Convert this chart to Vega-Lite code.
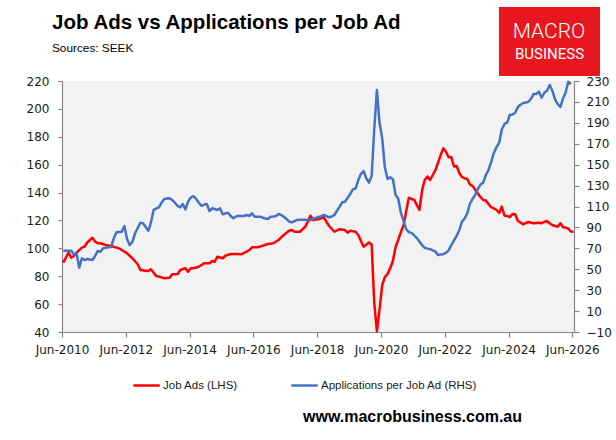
{
  "$schema": "https://vega.github.io/schema/vega-lite/v6.json",
  "width": 512,
  "height": 251,
  "autosize": {"type": "none"},
  "padding": {"left": 62, "top": 81, "right": 42, "bottom": 108},
  "background": "#ffffff",
  "title": {
    "text": "Job Ads vs Applications per Job Ad",
    "subtitle": "\u00a0\u00a0Sources: SEEK",
    "anchor": "start",
    "frame": "group",
    "dx": -10,
    "dy": 72,
    "offset": 24,
    "font": "Liberation Sans",
    "fontSize": 20.5,
    "fontWeight": "bold",
    "color": "#000000",
    "subtitleFont": "Liberation Sans",
    "subtitleFontSize": 11.8,
    "subtitleColor": "#000000",
    "subtitlePadding": 10
  },
  "config": {
    "view": {"fill": "#f2f2f2", "stroke": null},
    "axis": {
      "labelFont": "DejaVu Sans",
      "labelFontSize": 12,
      "labelColor": "#1a1a1a",
      "domainColor": "#868686",
      "tickColor": "#868686",
      "domainWidth": 1.2,
      "tickWidth": 1.2,
      "grid": false
    }
  },
  "datasets": {
    "jobAds": [
      {"date":"2010-06-15","v":89.7},{"date":"2010-08-15","v":96.9},{"date":"2010-09-15","v":93.3},{"date":"2010-10-15","v":94.5},{"date":"2010-11-15","v":96.9},
      {"date":"2011-01-15","v":100.5},{"date":"2011-02-15","v":101.2},{"date":"2011-03-15","v":104.0},{"date":"2011-05-15","v":107.6},{"date":"2011-06-15","v":104.8},
      {"date":"2011-07-15","v":103.6},{"date":"2011-08-15","v":103.6},{"date":"2011-10-15","v":102.4},{"date":"2011-12-15","v":101.7},{"date":"2012-03-15","v":100.0},
      {"date":"2012-04-15","v":98.8},{"date":"2012-06-15","v":96.4},{"date":"2012-08-15","v":92.9},{"date":"2012-10-15","v":88.6},{"date":"2012-11-15","v":84.5},
      {"date":"2013-01-15","v":84.0},{"date":"2013-02-15","v":83.7},{"date":"2013-03-15","v":85.0},{"date":"2013-05-15","v":80.2},{"date":"2013-06-15","v":79.7},
      {"date":"2013-08-15","v":78.5},{"date":"2013-10-15","v":78.9},{"date":"2013-11-15","v":81.4},{"date":"2014-01-15","v":81.6},{"date":"2014-02-15","v":84.5},
      {"date":"2014-04-15","v":85.7},{"date":"2014-05-15","v":83.2},{"date":"2014-06-15","v":85.7},{"date":"2014-07-15","v":85.7},{"date":"2014-09-15","v":86.8},
      {"date":"2014-11-15","v":89.3},{"date":"2015-01-15","v":89.3},{"date":"2015-02-15","v":90.9},{"date":"2015-03-15","v":90.4},{"date":"2015-04-15","v":94.0},
      {"date":"2015-06-15","v":92.9},{"date":"2015-07-15","v":94.7},{"date":"2015-09-15","v":95.9},{"date":"2015-11-15","v":95.9},{"date":"2016-01-15","v":95.7},
      {"date":"2016-03-15","v":97.6},{"date":"2016-04-15","v":98.8},{"date":"2016-05-15","v":100.7},{"date":"2016-07-15","v":100.7},{"date":"2016-09-15","v":101.9},
      {"date":"2016-11-15","v":103.1},{"date":"2017-01-15","v":103.6},{"date":"2017-03-15","v":106.0},{"date":"2017-05-15","v":109.6},{"date":"2017-07-15","v":112.6},
      {"date":"2017-08-15","v":113.1},{"date":"2017-09-15","v":111.9},{"date":"2017-11-15","v":111.9},{"date":"2018-01-15","v":115.5},{"date":"2018-02-15","v":119.1},
      {"date":"2018-03-15","v":123.4},{"date":"2018-04-15","v":120.3},{"date":"2018-06-15","v":120.8},{"date":"2018-08-15","v":122.3},{"date":"2018-09-15","v":119.1},
      {"date":"2018-10-15","v":116.0},{"date":"2018-12-15","v":111.9},{"date":"2019-02-15","v":113.7},{"date":"2019-04-15","v":113.1},{"date":"2019-05-15","v":111.2},
      {"date":"2019-06-15","v":112.6},{"date":"2019-08-15","v":111.9},{"date":"2019-09-15","v":109.6},{"date":"2019-10-15","v":105.3},{"date":"2019-11-15","v":101.2},
      {"date":"2019-12-15","v":102.6},{"date":"2020-01-15","v":104.2},{"date":"2020-02-15","v":102.8},{"date":"2020-03-15","v":61.5},{"date":"2020-04-15","v":40.4},
      {"date":"2020-05-15","v":55.8},{"date":"2020-06-15","v":73.7},{"date":"2020-07-15","v":79.4},{"date":"2020-08-15","v":81.6},{"date":"2020-09-15","v":85.9},
      {"date":"2020-10-15","v":90.9},{"date":"2020-11-15","v":101.0},{"date":"2020-12-15","v":106.0},{"date":"2021-01-15","v":111.7},{"date":"2021-02-15","v":116.7},
      {"date":"2021-03-15","v":126.1},{"date":"2021-04-15","v":136.3},{"date":"2021-05-15","v":135.4},{"date":"2021-06-15","v":134.9},{"date":"2021-07-15","v":131.1},
      {"date":"2021-08-15","v":127.5},{"date":"2021-09-15","v":141.8},{"date":"2021-10-15","v":149.0},{"date":"2021-11-15","v":151.5},{"date":"2021-12-15","v":149.0},
      {"date":"2022-01-15","v":152.6},{"date":"2022-02-15","v":156.2},{"date":"2022-03-15","v":161.2},{"date":"2022-04-15","v":166.9},{"date":"2022-05-15","v":171.7},
      {"date":"2022-06-15","v":169.3},{"date":"2022-07-15","v":165.3},{"date":"2022-08-15","v":165.5},{"date":"2022-09-15","v":158.7},{"date":"2022-10-15","v":159.0},
      {"date":"2022-11-15","v":154.0},{"date":"2022-12-15","v":151.2},{"date":"2023-01-15","v":150.2},{"date":"2023-02-15","v":149.7},{"date":"2023-03-15","v":145.9},
      {"date":"2023-04-15","v":144.7},{"date":"2023-05-15","v":142.2},{"date":"2023-06-15","v":139.3},{"date":"2023-07-15","v":136.8},{"date":"2023-08-15","v":134.7},
      {"date":"2023-09-15","v":134.3},{"date":"2023-10-15","v":131.8},{"date":"2023-11-15","v":129.6},{"date":"2023-12-15","v":128.6},{"date":"2024-01-15","v":127.5},
      {"date":"2024-02-15","v":125.4},{"date":"2024-03-15","v":129.9},{"date":"2024-04-15","v":123.4},{"date":"2024-05-15","v":123.2},{"date":"2024-06-15","v":122.3},
      {"date":"2024-07-15","v":124.6},{"date":"2024-08-15","v":124.4},{"date":"2024-09-15","v":119.8},{"date":"2024-10-15","v":118.5},{"date":"2024-11-15","v":117.2},
      {"date":"2024-12-15","v":118.2},{"date":"2025-01-15","v":118.9},{"date":"2025-02-15","v":118.4},{"date":"2025-03-15","v":118.0},{"date":"2025-04-15","v":118.2},
      {"date":"2025-05-15","v":118.4},{"date":"2025-06-15","v":118.0},{"date":"2025-07-15","v":118.9},{"date":"2025-08-15","v":119.6},{"date":"2025-09-15","v":117.8},
      {"date":"2025-10-15","v":116.7},{"date":"2025-11-15","v":116.0},{"date":"2025-12-15","v":115.5},{"date":"2026-01-15","v":118.0},{"date":"2026-02-15","v":115.1},
      {"date":"2026-03-15","v":114.9},{"date":"2026-04-15","v":114.2},{"date":"2026-05-15","v":112.1},{"date":"2026-06-15","v":111.9}
    ],
    "apps": [
      {"date":"2010-06-15","v":67.7},{"date":"2010-08-15","v":67.7},{"date":"2010-09-15","v":67.7},{"date":"2010-10-15","v":64.3},{"date":"2010-11-15","v":65.3},
      {"date":"2010-12-15","v":51.5},{"date":"2011-01-15","v":60.5},{"date":"2011-02-15","v":58.8},{"date":"2011-03-15","v":59.8},{"date":"2011-05-15","v":58.8},
      {"date":"2011-06-15","v":62.7},{"date":"2011-07-15","v":67.5},{"date":"2011-08-15","v":66.8},{"date":"2011-09-15","v":70.0},{"date":"2011-11-15","v":71.0},
      {"date":"2011-12-15","v":71.3},{"date":"2012-01-15","v":79.6},{"date":"2012-02-15","v":85.3},{"date":"2012-04-15","v":85.9},{"date":"2012-05-15","v":91.4},
      {"date":"2012-06-15","v":78.9},{"date":"2012-07-15","v":73.2},{"date":"2012-08-15","v":76.3},{"date":"2012-09-15","v":84.4},{"date":"2012-10-15","v":89.4},
      {"date":"2012-11-15","v":94.5},{"date":"2012-12-15","v":93.9},{"date":"2013-01-15","v":90.4},{"date":"2013-02-15","v":86.9},{"date":"2013-03-15","v":94.5},
      {"date":"2013-04-15","v":106.7},{"date":"2013-05-15","v":108.1},{"date":"2013-06-15","v":109.2},{"date":"2013-07-15","v":113.6},{"date":"2013-08-15","v":117.2},
      {"date":"2013-09-15","v":117.7},{"date":"2013-10-15","v":117.8},{"date":"2013-11-15","v":116.2},{"date":"2013-12-15","v":113.6},{"date":"2014-01-15","v":110.5},
      {"date":"2014-02-15","v":109.2},{"date":"2014-03-15","v":112.4},{"date":"2014-04-15","v":107.3},{"date":"2014-05-15","v":114.6},{"date":"2014-06-15","v":118.6},
      {"date":"2014-07-15","v":120.0},{"date":"2014-08-15","v":117.2},{"date":"2014-09-15","v":113.6},{"date":"2014-10-15","v":110.7},{"date":"2014-11-15","v":111.9},
      {"date":"2014-12-15","v":112.4},{"date":"2015-01-15","v":105.7},{"date":"2015-02-15","v":108.3},{"date":"2015-03-15","v":107.6},{"date":"2015-04-15","v":106.7},
      {"date":"2015-05-15","v":108.3},{"date":"2015-06-15","v":102.5},{"date":"2015-07-15","v":103.3},{"date":"2015-08-15","v":104.1},{"date":"2015-09-15","v":100.9},
      {"date":"2015-10-15","v":98.7},{"date":"2015-11-15","v":100.4},{"date":"2015-12-15","v":101.2},{"date":"2016-01-15","v":100.9},{"date":"2016-02-15","v":100.9},
      {"date":"2016-03-15","v":101.9},{"date":"2016-04-15","v":100.9},{"date":"2016-05-15","v":103.5},{"date":"2016-06-15","v":100.2},{"date":"2016-07-15","v":100.2},
      {"date":"2016-08-15","v":100.2},{"date":"2016-09-15","v":99.3},{"date":"2016-10-15","v":98.5},{"date":"2016-11-15","v":98.1},{"date":"2016-12-15","v":100.2},
      {"date":"2017-01-15","v":100.4},{"date":"2017-02-15","v":100.9},{"date":"2017-03-15","v":102.8},{"date":"2017-04-15","v":101.9},{"date":"2017-05-15","v":100.2},
      {"date":"2017-06-15","v":98.1},{"date":"2017-07-15","v":95.5},{"date":"2017-08-15","v":94.9},{"date":"2017-09-15","v":96.1},{"date":"2017-10-15","v":97.1},
      {"date":"2017-11-15","v":97.3},{"date":"2017-12-15","v":97.4},{"date":"2018-01-15","v":97.4},{"date":"2018-02-15","v":97.1},{"date":"2018-03-15","v":97.1},
      {"date":"2018-04-15","v":98.1},{"date":"2018-05-15","v":99.0},{"date":"2018-06-15","v":100.0},{"date":"2018-07-15","v":100.6},{"date":"2018-08-15","v":101.9},
      {"date":"2018-09-15","v":100.9},{"date":"2018-10-15","v":99.7},{"date":"2018-11-15","v":100.4},{"date":"2018-12-15","v":101.9},{"date":"2019-01-15","v":106.0},
      {"date":"2019-02-15","v":110.0},{"date":"2019-03-15","v":114.0},{"date":"2019-04-15","v":114.6},{"date":"2019-05-15","v":118.1},{"date":"2019-06-15","v":122.0},
      {"date":"2019-07-15","v":126.4},{"date":"2019-08-15","v":127.4},{"date":"2019-09-15","v":135.3},{"date":"2019-10-15","v":141.1},{"date":"2019-11-15","v":143.9},
      {"date":"2019-12-15","v":137.0},{"date":"2020-01-15","v":132.8},{"date":"2020-02-15","v":139.2},{"date":"2020-03-15","v":183.2},{"date":"2020-04-15","v":221.4},
      {"date":"2020-05-15","v":190.0},{"date":"2020-06-15","v":175.0},{"date":"2020-07-15","v":147.5},{"date":"2020-08-15","v":136.3},{"date":"2020-09-15","v":137.9},
      {"date":"2020-10-15","v":136.0},{"date":"2020-11-15","v":121.0},{"date":"2020-12-15","v":117.7},{"date":"2021-01-15","v":104.0},{"date":"2021-02-15","v":96.0},
      {"date":"2021-03-15","v":88.5},{"date":"2021-04-15","v":85.5},{"date":"2021-05-15","v":84.8},{"date":"2021-06-15","v":82.5},{"date":"2021-07-15","v":80.0},
      {"date":"2021-08-15","v":76.5},{"date":"2021-09-15","v":73.0},{"date":"2021-10-15","v":70.5},{"date":"2021-11-15","v":69.7},{"date":"2021-12-15","v":69.2},
      {"date":"2022-01-15","v":68.0},{"date":"2022-02-15","v":66.9},{"date":"2022-03-15","v":63.6},{"date":"2022-04-15","v":64.2},{"date":"2022-05-15","v":64.4},
      {"date":"2022-06-15","v":65.6},{"date":"2022-07-15","v":68.0},{"date":"2022-08-15","v":73.0},{"date":"2022-09-15","v":77.5},{"date":"2022-10-15","v":81.8},
      {"date":"2022-11-15","v":87.5},{"date":"2022-12-15","v":95.5},{"date":"2023-01-15","v":98.5},{"date":"2023-02-15","v":103.8},{"date":"2023-03-15","v":112.4},
      {"date":"2023-04-15","v":117.2},{"date":"2023-05-15","v":121.0},{"date":"2023-06-15","v":126.7},{"date":"2023-07-15","v":131.0},{"date":"2023-08-15","v":132.8},
      {"date":"2023-09-15","v":140.1},{"date":"2023-10-15","v":144.9},{"date":"2023-11-15","v":152.6},{"date":"2023-12-15","v":161.2},{"date":"2024-01-15","v":166.9},
      {"date":"2024-02-15","v":171.0},{"date":"2024-03-15","v":183.6},{"date":"2024-04-15","v":188.9},{"date":"2024-05-15","v":190.1},{"date":"2024-06-15","v":197.5},
      {"date":"2024-07-15","v":198.0},{"date":"2024-08-15","v":199.4},{"date":"2024-09-15","v":205.1},{"date":"2024-10-15","v":207.3},{"date":"2024-11-15","v":209.0},
      {"date":"2024-12-15","v":209.4},{"date":"2025-01-15","v":210.2},{"date":"2025-02-15","v":213.3},{"date":"2025-03-15","v":217.6},{"date":"2025-04-15","v":217.6},
      {"date":"2025-05-15","v":219.8},{"date":"2025-06-15","v":214.0},{"date":"2025-07-15","v":218.8},{"date":"2025-08-15","v":220.7},{"date":"2025-09-15","v":226.2},
      {"date":"2025-10-15","v":220.7},{"date":"2025-11-15","v":212.5},{"date":"2025-12-15","v":208.0},{"date":"2026-01-15","v":205.1},{"date":"2026-02-15","v":213.5},
      {"date":"2026-03-15","v":218.5},{"date":"2026-04-15","v":229.3},{"date":"2026-05-15","v":227.1}
    ]
  },
  "encoding": {
    "x": {
      "field": "date",
      "type": "temporal",
      "scale": {
        "type": "utc",
        "domain": [
          {"year": 2010, "month": 6, "date": 1, "utc": true},
          {"year": 2026, "month": 6, "date": 20, "utc": true}
        ]
      },
      "axis": {
        "values": [
          {"year": 2010, "month": 6, "date": 1, "utc": true},
          {"year": 2012, "month": 6, "date": 1, "utc": true},
          {"year": 2014, "month": 6, "date": 1, "utc": true},
          {"year": 2016, "month": 6, "date": 1, "utc": true},
          {"year": 2018, "month": 6, "date": 1, "utc": true},
          {"year": 2020, "month": 6, "date": 1, "utc": true},
          {"year": 2022, "month": 6, "date": 1, "utc": true},
          {"year": 2024, "month": 6, "date": 1, "utc": true},
          {"year": 2026, "month": 6, "date": 1, "utc": true}
        ],
        "format": "%b-%Y",
        "labelFlush": false,
        "labelOverlap": false,
        "labelBound": false,
        "tickSize": 5,
        "labelPadding": 7,
        "title": "www.macrobusiness.com.au",
        "titleFont": "Liberation Sans",
        "titleFontSize": 16,
        "titleFontWeight": "bold",
        "titleColor": "#000000",
        "titleX": 350,
        "titleY": 84,
        "titleAlign": "center",
        "titleBaseline": "middle"
      }
    }
  },
  "layer": [
    {
      "data": {"name": "jobAds"},
      "mark": {"type": "line", "strokeWidth": 2.5, "strokeJoin": "round"},
      "encoding": {
        "y": {
          "field": "v",
          "type": "quantitative",
          "scale": {"domain": [40, 220], "nice": false, "zero": false},
          "axis": {
            "orient": "left",
            "values": [40, 60, 80, 100, 120, 140, 160, 180, 200, 220],
            "tickSize": 4,
            "labelPadding": 9,
            "title": null
          }
        },
        "color": {
          "datum": "Job Ads (LHS)",
          "type": "nominal",
          "scale": {
            "domain": ["Job Ads (LHS)", "Applications per Job Ad (RHS)"],
            "range": ["#ff0000", "#4472c4"]
          },
          "legend": {
            "title": null,
            "orient": "none",
            "legendX": 70,
            "legendY": 290,
            "direction": "horizontal",
            "columns": 2,
            "columnPadding": 48,
            "padding": 0,
            "symbolType": "stroke",
            "symbolSize": 700,
            "symbolStrokeWidth": 2.5,
            "labelOffset": 2,
            "labelFont": "Liberation Sans",
            "labelFontSize": 11.5,
            "labelColor": "#1a1a1a"
          }
        }
      }
    },
    {
      "data": {"name": "apps"},
      "mark": {"type": "line", "strokeWidth": 2.5, "strokeJoin": "round"},
      "encoding": {
        "y": {
          "field": "v",
          "type": "quantitative",
          "scale": {"domain": [-10, 230], "nice": false, "zero": false},
          "axis": {
            "orient": "right",
            "values": [-10, 10, 30, 50, 70, 90, 110, 130, 150, 170, 190, 210, 230],
            "tickSize": 5,
            "labelPadding": 7,
            "title": null
          }
        },
        "color": {"datum": "Applications per Job Ad (RHS)", "type": "nominal"},
        "strokeWidth": {
          "datum": "BUSINESS",
          "type": "nominal",
          "scale": {"type": "ordinal", "domain": ["BUSINESS"], "range": [2.5]},
          "legend": {
            "title": "MACRO",
            "orient": "none",
            "legendX": 437,
            "legendY": -74,
            "fillColor": "#e8161e",
            "padding": 14,
            "titleFont": "Roboto",
            "titleFontSize": 21,
            "titleFontWeight": 300,
            "titleColor": "#ffffff",
            "titleAnchor": "middle",
            "titlePadding": 4,
            "labelFont": "Roboto",
            "labelFontSize": 15,
            "labelColor": "#ffffff",
            "symbolType": "stroke",
            "symbolOpacity": 0,
            "symbolSize": 0,
            "labelOffset": -13
          }
        }
      }
    }
  ],
  "resolve": {"scale": {"y": "independent"}}
}
